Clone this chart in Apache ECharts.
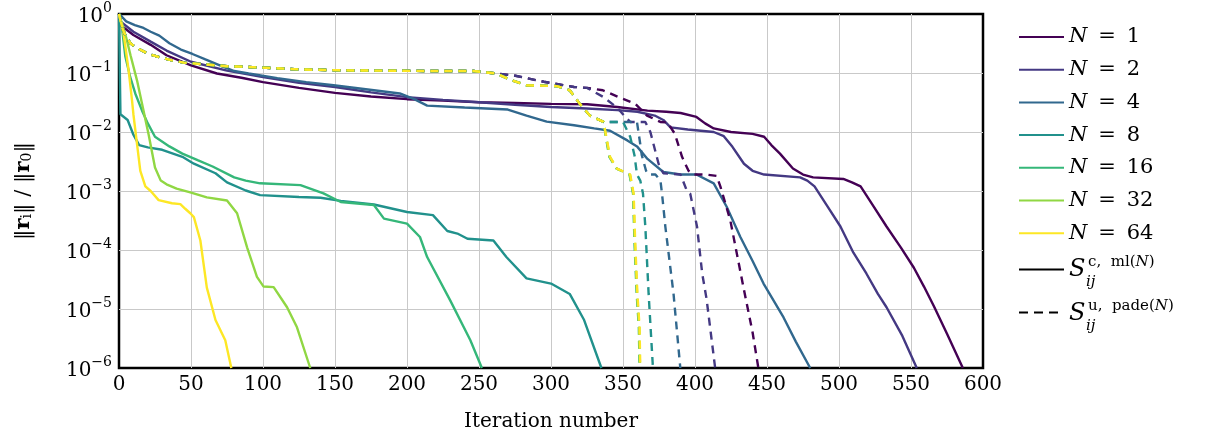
<!DOCTYPE html>
<html><head><meta charset="utf-8">
<script src="https://cdn.jsdelivr.net/npm/echarts@6/dist/echarts.min.js"></script>
<style>html,body{margin:0;padding:0;background:#fff}#c{width:1209px;height:439px}</style>
</head><body><div id="c"></div>
<script>
// ---- tick labels ----
const xTicks = [0, 50, 100, 150, 200, 250, 300, 350, 400, 450, 500, 550, 600];
const yTickValues = [1e-6, 1e-5, 1e-4, 1e-3, 1e-2, 1e-1, 1];
const yTickExponents = ['−6', '−5', '−4', '−3', '−2', '−1', '0'];

// ---- categories ----
const labelsN = ['1', '2', '4', '8', '16', '32', '64'];
const colorsN = ['#440154', '#443983', '#31688e', '#21918c', '#35b779', '#90d743', '#fde725'];

// ---- S^{c, ml(N)} (solid) : [iteration, ||r_i||/||r_0||] ----
const mlN1 = [[0,1],[1,0.65],[10,0.44],[22,0.3],[33,0.2],[50,0.135],[68,0.098],[85,0.083],[100,0.07],[125,0.056],[150,0.046],[175,0.04],[200,0.036],[225,0.034],[250,0.032],[275,0.031],[300,0.03],[325,0.0295],[346,0.0265],[367,0.023],[380,0.022],[390,0.021],[401,0.018],[407,0.014],[413,0.0115],[425,0.01],[440,0.0093],[448,0.0083],[453,0.006],[459,0.0043],[468,0.0024],[475,0.0019],[482,0.0017],[503,0.0016],[509,0.0014],[515,0.0012],[524,5.5e-4],[533,2.5e-4],[543,1.1e-4],[552,5e-5],[559,2.4e-5],[566,1.1e-5],[575,3.8e-6],[586,1e-6]];
const mlN2 = [[0,1],[1,0.75],[10,0.5],[22,0.34],[33,0.24],[50,0.155],[75,0.11],[100,0.085],[125,0.068],[150,0.058],[175,0.047],[200,0.039],[225,0.035],[250,0.032],[275,0.029],[300,0.0265],[325,0.025],[346,0.0235],[360,0.022],[372,0.019],[378,0.016],[383,0.012],[395,0.011],[413,0.01],[420,0.0085],[426,0.0056],[434,0.0029],[440,0.0022],[448,0.0019],[473,0.0017],[478,0.0015],[483,0.0012],[492,5.5e-4],[501,2.5e-4],[510,9e-5],[519,4e-5],[527,1.8e-5],[533,1.07e-5],[544,3.5e-6],[554,1e-6]];
const mlN4 = [[0,1],[2,0.9],[5,0.75],[11,0.65],[17,0.58],[22,0.5],[28,0.43],[35,0.32],[43,0.25],[51,0.21],[60,0.17],[70,0.135],[80,0.108],[90,0.098],[110,0.082],[130,0.07],[149,0.062],[177,0.051],[195,0.045],[205,0.036],[214,0.028],[240,0.026],[270,0.024],[283,0.019],[297,0.015],[316,0.013],[330,0.0115],[341,0.0105],[353,0.0072],[360,0.0056],[367,0.0035],[378,0.0021],[390,0.0019],[401,0.0019],[413,0.00135],[422,5.4e-4],[431.5,1.66e-4],[440,6.5e-5],[447.6,2.7e-5],[461.5,7.2e-6],[470,2.8e-6],[480,1e-6]];
const mlN8 = [[0,1],[1,0.02],[6,0.016],[10,0.009],[14,0.006],[20,0.0055],[30,0.005],[44,0.0038],[52,0.0029],[67,0.002],[75,0.0014],[88,0.00102],[98,8.5e-4],[125,7.9e-4],[140,7.7e-4],[154,6.8e-4],[177,5.9e-4],[200,4.4e-4],[218,3.9e-4],[228,2.1e-4],[235,1.9e-4],[242,1.55e-4],[260,1.45e-4],[269,7.6e-5],[283,3.3e-5],[300,2.7e-5],[313,1.8e-5],[323,6.5e-6],[335,1e-6]];
const mlN16 = [[0,1],[2,0.6],[4.4,0.19],[7.8,0.085],[11.3,0.045],[16,0.023],[20,0.014],[25,0.0083],[35,0.0057],[44,0.0043],[55,0.0033],[65,0.0026],[80,0.0017],[88,0.0015],[98,0.00135],[126,0.00126],[142,9.1e-4],[154,6.5e-4],[177,5.8e-4],[184,3.4e-4],[200,2.8e-4],[209,1.66e-4],[214,7.6e-5],[230,1.4e-5],[244,2.95e-6],[252,1e-6]];
const mlN32 = [[0,1],[2,0.7],[5,0.4],[8,0.2],[12.5,0.075],[16,0.03],[20.6,0.009],[25,0.0025],[29,0.0015],[33,0.0013],[40,0.0011],[49.5,9.5e-4],[61,7.8e-4],[75,6.9e-4],[82,4.2e-4],[89,1.1e-4],[95.8,3.5e-5],[100.4,2.4e-5],[107.4,2.35e-5],[116.7,1.07e-5],[123.6,4.9e-6],[132.8,1e-6]];
const mlN64 = [[0,1],[3,0.5],[6.7,0.11],[9,0.035],[10,0.02],[12.5,0.0063],[14.8,0.0022],[18.3,0.0012],[22,0.001],[27.5,7e-4],[36.8,6.2e-4],[42.6,6e-4],[46,5e-4],[49.5,4.2e-4],[52,3.6e-4],[56.5,1.45e-4],[61,2.3e-5],[67,6.5e-6],[73.8,2.95e-6],[78,1e-6]];

// ---- S^{u, pade(N)} (dashed) ----
const padeHead = [[0,1],[2,0.6],[4.4,0.44],[7.9,0.32],[11.3,0.275],[20.6,0.21],[30,0.18],[36.8,0.164],[45,0.15],[55,0.143],[75,0.13],[85,0.128],[126,0.115],[154,0.111],[218,0.108],[246,0.108],[262,0.098]];
const padeSlowMid = [[274,0.091],[295,0.071],[316,0.058],[325,0.056]];
const padeFastMid = [[272,0.076],[283,0.062],[304,0.06],[313,0.051],[320,0.03],[327,0.019],[336.5,0.0148]];
const padeN1Tail = [[336,0.051],[347,0.039],[358.5,0.03],[366.7,0.019],[376,0.0148],[381,0.0145],[386,0.0093],[391,0.0038],[395.5,0.0022],[399,0.0019],[408,0.0019],[415,0.0018],[417.6,0.0012],[424.5,3.2e-4],[433.7,2.3e-5],[440,4e-6],[444,1e-6]];
const padeN2Tail = [[336.5,0.039],[345.8,0.026],[351.6,0.018],[355,0.0148],[365.5,0.0148],[369,0.01],[374.7,0.0029],[378,0.002],[390,0.0019],[394.4,0.001],[396.7,9e-4],[401.4,2.5e-4],[405,4e-5],[408,1.5e-5],[414,1e-6]];
const padeN4Tail = [[359.7,0.0148],[362,0.0062],[363,0.0041],[366,0.0022],[367.8,0.0019],[372.5,0.0019],[376,0.0015],[377.1,9e-4],[379.4,2.5e-4],[385.1,1.8e-5],[389.8,1e-6]];
const padeN8Tail = [[350,0.0148],[355,0.0083],[358,0.004],[359.7,0.0019],[362,0.0015],[363.9,9e-4],[365.5,2.5e-4],[367.8,1.8e-5],[370.8,1e-6]];
const padeN16Tail = [[338.5,0.0072],[340.5,0.0038],[345.5,0.0024],[354.5,0.0019],[357,9e-4],[358,1.3e-4],[359.5,1.8e-5],[361,4.9e-6],[361.5,1e-6]];
const padeN32Tail = [[338.7,0.0072],[340.8,0.0038],[345.7,0.0024],[354.8,0.0019],[357.2,9e-4],[358.3,1.3e-4],[359.8,1.8e-5],[361.3,4.9e-6],[361.8,1e-6]];
const padeN64Tail = [[338.9,0.0072],[341,0.0038],[345.8,0.0024],[355,0.0019],[357.4,9e-4],[358.5,1.3e-4],[360,1.8e-5],[361.5,4.9e-6],[362,1e-6]];

const mlAll = [mlN1, mlN2, mlN4, mlN8, mlN16, mlN32, mlN64];
const padeAll = [
  padeHead.concat(padeSlowMid, padeN1Tail),
  padeHead.concat(padeSlowMid, padeN2Tail),
  padeHead.concat(padeFastMid, padeN4Tail),
  padeHead.concat(padeFastMid, padeN8Tail),
  padeHead.concat(padeFastMid, padeN16Tail),
  padeHead.concat(padeFastMid, padeN32Tail),
  padeHead.concat(padeFastMid, padeN64Tail)
];

const FONT = 'DejaVu Serif';
const DASH = [8, 6];
const LW = 2.4;
const series = [];
labelsN.forEach((n, i) => {
  series.push({name: 'N = ' + n, type: 'line', data: mlAll[i], symbol: 'none', showSymbol: false,
    color: colorsN[i], lineStyle: {width: LW, color: colorsN[i]}, z: 3, animation: false});
});
labelsN.forEach((n, i) => {
  series.push({name: 'N = ' + n, type: 'line', data: padeAll[i], symbol: 'none', showSymbol: false,
    color: colorsN[i], lineStyle: {width: LW, color: colorsN[i], type: DASH}, z: 4, animation: false});
});
series.push({name: 'Sc', type: 'line', data: [], symbol: 'none', color: '#000', lineStyle: {width: LW, color: '#000'}});
series.push({name: 'Su', type: 'line', data: [], symbol: 'none', color: '#000', lineStyle: {width: LW, color: '#000', type: [9, 6]}});

const legendBase = {
  orient: 'vertical', left: 1018, padding: 0, itemWidth: 45, itemHeight: 24, itemGap: 8.7,
  selectedMode: false, itemStyle: {opacity: 0},
  textStyle: {fontFamily: FONT, fontSize: 21, color: '#000', lineHeight: 24,
    rich: {i: {fontFamily: FONT, fontSize: 21, fontStyle: 'italic', color: '#000'}}},
  formatter: name => name.startsWith('N = ') ? '{i|N} \u2009=\u2009 ' + name.slice(4) : ''
};

const chart = echarts.init(document.getElementById('c'), null, {renderer: 'canvas'});
chart.setOption({
  animation: false,
  grid: {left: 119, right: 226, top: 14, bottom: 71, show: true, borderColor: '#000', borderWidth: 2.5, backgroundColor: 'transparent'},
  xAxis: {
    type: 'value', min: 0, max: 600, interval: 50,
    name: 'Iteration number', nameLocation: 'middle', nameGap: 44,
    nameTextStyle: {fontFamily: FONT, fontSize: 20, color: '#000'},
    axisLine: {show: false}, axisTick: {show: false},
    axisLabel: {fontFamily: FONT, fontSize: 20, color: '#000', margin: 7,
      formatter: v => { const k = xTicks.indexOf(v); return k >= 0 ? String(xTicks[k]) : ''; }},
    splitLine: {show: true, showMinLine: false, showMaxLine: false, lineStyle: {color: '#c9c9c9', width: 1}}
  },
  yAxis: {
    type: 'log', logBase: 10, min: 1e-6, max: 1, splitNumber: 6,
    name: '‖{b|r}{s|i}‖ / ‖{b|r}{s|0}‖', nameLocation: 'middle', nameRotate: 90, nameGap: 85,
    nameTextStyle: {fontFamily: FONT, fontSize: 21, color: '#000',
      rich: {b: {fontFamily: FONT, fontSize: 21, fontWeight: 'bold', color: '#000'},
             s: {fontFamily: FONT, fontSize: 14, color: '#000', verticalAlign: 'bottom'}}},
    axisLine: {show: false}, axisTick: {show: false},
    axisLabel: {margin: 7, lineHeight: 26,
      formatter: v => {
        const k = yTickValues.findIndex(t => Math.abs(Math.log10(t) - Math.log10(v)) < 1e-6);
        return k >= 0 ? '{b|10}{e|' + yTickExponents[k] + '}' : '';
      },
      rich: {b: {fontFamily: FONT, fontSize: 20, color: '#000', verticalAlign: 'bottom'},
             e: {fontFamily: FONT, fontSize: 14, color: '#000', verticalAlign: 'top'}}},
    splitLine: {show: true, showMinLine: false, showMaxLine: false, lineStyle: {color: '#c9c9c9', width: 1}}
  },
  legend: [
    Object.assign({}, legendBase, {top: 25, data: labelsN.map(n => 'N = ' + n)}),
    Object.assign({}, legendBase, {top: 260, data: ['Sc']}),
    Object.assign({}, legendBase, {top: 303, data: ['Su']})
  ],
  graphic: [
    {type: 'text', x: 1069, y: 270, style: {text: 'S', fontFamily: FONT, fontSize: 24, fontStyle: 'italic', fill: '#000', verticalAlign: 'middle'}},
    {type: 'text', x: 1088, y: 262, style: {text: '{r|c,  ml(}{i|N}{r|)}', verticalAlign: 'middle',
      rich: {r: {fontFamily: FONT, fontSize: 15, color: '#000'}, i: {fontFamily: FONT, fontSize: 15, fontStyle: 'italic', color: '#000'}}}},
    {type: 'text', x: 1086, y: 282, style: {text: 'ij', fontFamily: FONT, fontSize: 15, fontStyle: 'italic', fill: '#000', verticalAlign: 'middle'}},
    {type: 'text', x: 1069, y: 314, style: {text: 'S', fontFamily: FONT, fontSize: 24, fontStyle: 'italic', fill: '#000', verticalAlign: 'middle'}},
    {type: 'text', x: 1088, y: 306, style: {text: '{r|u,  pade(}{i|N}{r|)}', verticalAlign: 'middle',
      rich: {r: {fontFamily: FONT, fontSize: 15, color: '#000'}, i: {fontFamily: FONT, fontSize: 15, fontStyle: 'italic', color: '#000'}}}},
    {type: 'text', x: 1086, y: 326, style: {text: 'ij', fontFamily: FONT, fontSize: 15, fontStyle: 'italic', fill: '#000', verticalAlign: 'middle'}}
  ],
  series: series
});
</script></body></html>
